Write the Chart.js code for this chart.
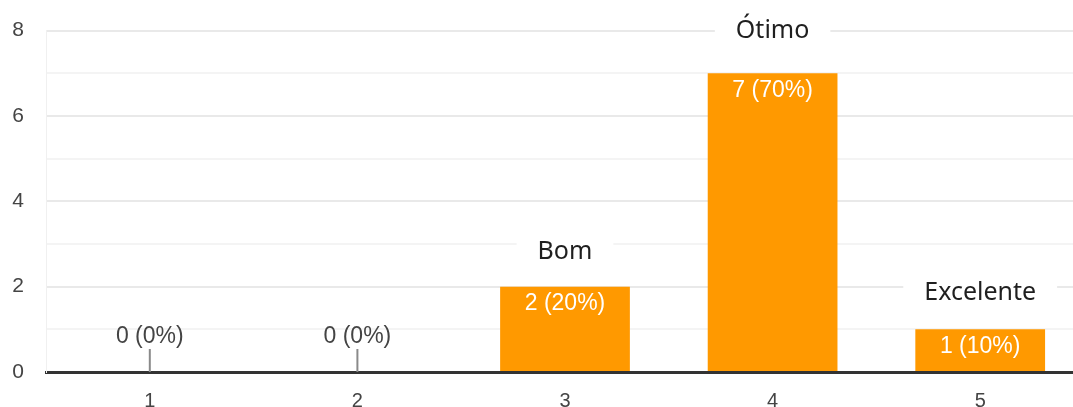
<!DOCTYPE html>
<html>
<head>
<meta charset="utf-8">
<script src="https://cdn.jsdelivr.net/npm/chart.js@4.4.0/dist/chart.umd.min.js"></script>
<style>
    html, body { margin: 0; padding: 0; background: #fff; overflow: hidden; }
    #wrap { position: relative; top: -4px; width: 1090px; height: 411px; }
</style>
</head>
<body>
<div id="wrap"><canvas id="ratingChart"></canvas></div>
<script>
/* ─── Data ───────────────────────────────────── */
const categories = ['1', '2', '3', '4', '5'];
const counts = [0, 0, 2, 7, 1];
const ratingNames = ['', '', 'Bom', 'Ótimo', 'Excelente'];
const yTickValues = [0, 2, 4, 6, 8];

const total = counts.reduce((a, b) => a + b, 0);

const colors = {
    bar: '#ff9900',
    axis: '#333333',
    gridMajor: '#e9e9e9',
    gridMinor: '#f4f4f4',
    tickText: '#444444',
    nameText: '#1f1f1f'
};

/* ─── Value labels + rating names ────────────── */
const barLabels = {
    id: 'barLabels',
    afterDatasetsDraw(chart, args, opts) {
        const ctx = chart.ctx;
        const meta = chart.getDatasetMeta(0);
        ctx.save();
        meta.data.forEach((bar, i) => {
            const v = counts[i];
            const pct = Math.round(v / total * 100);
            const text = v + ' (' + pct + '%)';
            ctx.font = "23px 'Liberation Sans', Arial, sans-serif";
            ctx.textAlign = 'center';
            ctx.textBaseline = 'middle';
            if (v > 0) {
                ctx.fillStyle = '#ffffff';
                ctx.fillText(text, bar.x, bar.y + 17);
            } else {
                ctx.strokeStyle = '#8a8a8a';
                ctx.lineWidth = 2;
                ctx.beginPath();
                ctx.moveTo(bar.x, bar.base - 23);
                ctx.lineTo(bar.x, bar.base);
                ctx.stroke();
                ctx.fillStyle = colors.tickText;
                ctx.fillText(text, bar.x, bar.base - 35);
            }

            const name = ratingNames[i];
            if (!name) return;
            ctx.font = "25px 'Noto Sans', 'Open Sans', sans-serif";
            const w = ctx.measureText(name).width;
            const y = bar.y - opts.nameOffsets[i];
            ctx.fillStyle = '#ffffff';
            ctx.fillRect(bar.x - w / 2 - 21, y - 12, w + 42, 24);
            ctx.fillStyle = colors.nameText;
            ctx.fillText(name, bar.x, y);
        });
        ctx.restore();
    }
};

/* ─── Chart ──────────────────────────────────── */
const ctx = document.getElementById('ratingChart');
new Chart(ctx.getContext('2d'), {
    type: 'bar',
    data: {
        labels: categories,
        datasets: [{
            data: counts,
            backgroundColor: colors.bar,
            borderWidth: 0,
            barPercentage: 0.625,
            categoryPercentage: 1
        }]
    },
    options: {
        responsive: true,
        maintainAspectRatio: false,
        animation: false,
        layout: { padding: { top: 15, right: 6, bottom: 0, left: 0 } },
        plugins: {
            legend: { display: false },
            tooltip: { enabled: false },
            barLabels: { nameOffsets: [0, 0, 35, 42, 36] }
        },
        scales: {
            x: {
                z: 1,
                grid: { display: false, drawTicks: false },
                border: { display: true, color: colors.axis, width: 3 },
                ticks: {
                    padding: 17,
                    color: colors.tickText,
                    font: { family: "'Liberation Sans', Arial, sans-serif", size: 20 }
                },
                afterFit(scale) { scale.height = 35; }
            },
            y: {
                min: 0,
                max: 8,
                grid: {
                    drawTicks: false,
                    lineWidth: 2,
                    color: c => {
                        const v = c.tick ? c.tick.value : 0;
                        if (v === 0) return 'rgba(0,0,0,0)';
                        return v % 2 === 0 ? colors.gridMajor : colors.gridMinor;
                    }
                },
                border: { display: true, color: '#f0f0f0', width: 1 },
                ticks: {
                    stepSize: 1,
                    autoSkip: false,
                    padding: 22,
                    color: colors.tickText,
                    font: { family: "'Liberation Sans', Arial, sans-serif", size: 21 },
                    callback: v => yTickValues.includes(v) ? String(v) : ''
                },
                afterFit(scale) { scale.width = 46; }
            }
        }
    },
    plugins: [barLabels]
});
</script>
</body>
</html>
